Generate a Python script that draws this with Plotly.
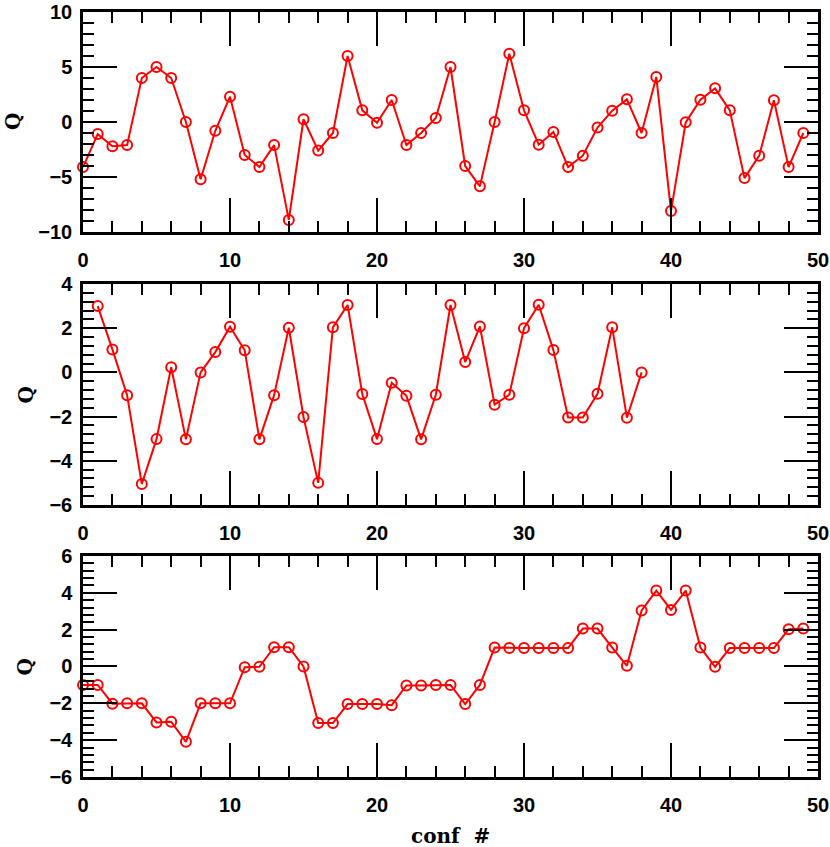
import plotly.graph_objects as go
from plotly.subplots import make_subplots

# configuration index
conf1 = list(range(0, 50))
conf2 = list(range(1, 39))
conf3 = list(range(0, 50))

# topological charge, panel 1
q1 = [-4.1, -1.1, -2.2, -2.1, 4.0, 5.0, 4.0, 0.0, -5.2, -0.8,
      2.3, -3.0, -4.1, -2.1, -8.9, 0.25, -2.6, -1.0, 6.0, 1.06,
      -0.06, 2.0, -2.1, -1.0, 0.36, 5.0, -4.0, -5.85, 0.0, 6.2,
      1.06, -2.06, -0.9, -4.1, -3.06, -0.5, 1.03, 2.06, -1.0, 4.1,
      -8.1, -0.03, 2.03, 3.06, 1.06, -5.1, -3.06, 1.97, -4.1, -1.0]

# panel 2
q2 = [3.0, 1.04, -1.03, -5.05, -3.02, 0.23, -3.03, 0.0, 0.92, 2.07,
      1.0, -3.03, -1.03, 2.02, -2.02, -5.0, 2.04, 3.05, -0.98, -3.02,
      -0.47, -1.06, -3.03, -1.01, 3.05, 0.47, 2.08, -1.46, -1.01, 2.0,
      3.06, 1.01, -2.04, -2.04, -0.97, 2.04, -2.05, 0.0]

# panel 3
q3 = [-1.0, -1.0, -2.02, -2.0, -2.0, -3.04, -3.0, -4.09, -2.0, -2.0,
      -2.0, -0.04, -0.02, 1.05, 1.05, 0.0, -3.07, -3.07, -2.04, -2.04,
      -2.04, -2.1, -1.03, -1.03, -1.01, -1.0, -2.04, -1.0, 1.03, 1.0,
      1.0, 1.0, 1.0, 1.0, 2.06, 2.06, 1.03, 0.04, 3.04, 4.12,
      3.07, 4.12, 1.03, -0.02, 1.0, 1.0, 1.0, 1.0, 2.02, 2.06]

xticks = [0, 10, 20, 30, 40, 50]

fig = make_subplots(rows=3, cols=1)

for i, (xs, ys) in enumerate([(conf1, q1), (conf2, q2), (conf3, q3)], start=1):
    fig.add_trace(go.Scatter(
        x=xs, y=ys, mode='lines+markers',
        line=dict(color='#ff0000', width=2),
        marker=dict(symbol='circle-open', size=10, color='#ff0000',
                    line=dict(width=2, color='#ff0000')),
        cliponaxis=False, showlegend=False
    ), row=i, col=1)

font = dict(family='Liberation Sans', size=20, color='black', weight='bold')
title_font = dict(family='DejaVu Serif', size=20, color='black', weight='bold')

axis_common = dict(
    showline=True, linecolor='black', linewidth=2.5, mirror='allticks',
    ticks='inside', ticklen=34, tickwidth=2, tickcolor='black',
    showgrid=False, zeroline=False, tickfont=font, automargin=False,
    ticklabeloverflow='allow',
)

domains = [[0.7124, 1.0], [0.3556, 0.6444], [0.0, 0.2889]]
yranges = [[-10, 10], [-6, 4], [-6, 6]]
ydticks = [5, 2, 2]
yminor = [1, 0.4, 0.4]

for i in range(3):
    n = '' if i == 0 else str(i + 1)
    fig.layout['xaxis' + n].update(
        range=[0, 50], tickvals=xticks, ticklabelstandoff=8,
        minor=dict(dtick=2, tick0=0, ticks='inside', ticklen=11,
                   tickwidth=2, tickcolor='black'),
        **axis_common)
    fig.layout['yaxis' + n].update(
        range=yranges[i], domain=domains[i], dtick=ydticks[i], tick0=0,
        ticklabelstandoff=4,
        minor=dict(dtick=yminor[i], tick0=0, ticks='inside', ticklen=11,
                   tickwidth=2, tickcolor='black'),
        **axis_common)

# axis titles
q_x = [-0.0952, -0.0776, -0.0776]
for i in range(3):
    d = domains[i]
    fig.add_annotation(text='Q', textangle=-90, xref='paper', yref='paper',
                       x=q_x[i], y=(d[0] + d[1]) / 2, showarrow=False,
                       font=title_font, xanchor='center', yanchor='middle')

fig.add_annotation(text='conf  #', xref='paper', yref='paper', x=0.5, y=-0.077,
                   showarrow=False, font=title_font, xanchor='center', yanchor='middle')

fig.update_layout(
    width=830, height=847,
    margin=dict(l=83, r=12, t=12, b=70),
    plot_bgcolor='white', paper_bgcolor='white',
)

# drop the page's default body margin so the figure sits at the window corner
fig.write_html("out.html", config={'displayModeBar': False},
               post_script="document.body.style.margin='0';")
